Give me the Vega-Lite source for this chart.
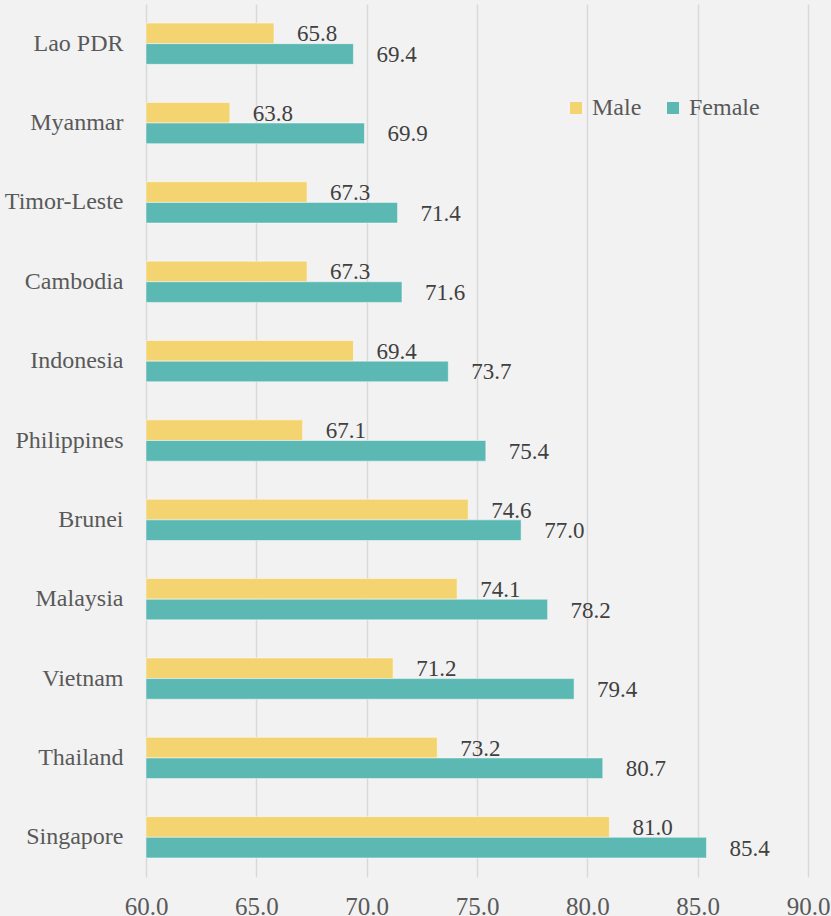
{
  "$schema": "https://vega.github.io/schema/vega-lite/v6.json",
  "width": 662,
  "height": 873,
  "autosize": "none",
  "padding": {"left": 146, "top": 4, "right": 23, "bottom": 39},
  "background": "#f2f2f2",
  "config": {
    "view": {"stroke": null},
    "font": "Liberation Serif"
  },
  "data": {
    "values": [
      {"country": "Lao PDR", "sex": "Male", "value": 65.8},
      {"country": "Lao PDR", "sex": "Female", "value": 69.4},
      {"country": "Myanmar", "sex": "Male", "value": 63.8},
      {"country": "Myanmar", "sex": "Female", "value": 69.9},
      {"country": "Timor-Leste", "sex": "Male", "value": 67.3},
      {"country": "Timor-Leste", "sex": "Female", "value": 71.4},
      {"country": "Cambodia", "sex": "Male", "value": 67.3},
      {"country": "Cambodia", "sex": "Female", "value": 71.6},
      {"country": "Indonesia", "sex": "Male", "value": 69.4},
      {"country": "Indonesia", "sex": "Female", "value": 73.7},
      {"country": "Philippines", "sex": "Male", "value": 67.1},
      {"country": "Philippines", "sex": "Female", "value": 75.4},
      {"country": "Brunei", "sex": "Male", "value": 74.6},
      {"country": "Brunei", "sex": "Female", "value": 77.0},
      {"country": "Malaysia", "sex": "Male", "value": 74.1},
      {"country": "Malaysia", "sex": "Female", "value": 78.2},
      {"country": "Vietnam", "sex": "Male", "value": 71.2},
      {"country": "Vietnam", "sex": "Female", "value": 79.4},
      {"country": "Thailand", "sex": "Male", "value": 73.2},
      {"country": "Thailand", "sex": "Female", "value": 80.7},
      {"country": "Singapore", "sex": "Male", "value": 81.0},
      {"country": "Singapore", "sex": "Female", "value": 85.4}
    ]
  },
  "encoding": {
    "y": {
      "field": "country",
      "type": "nominal",
      "sort": null,
      "scale": {"paddingInner": 0.48, "paddingOuter": 0.24},
      "axis": {
        "title": null,
        "domain": false,
        "ticks": false,
        "grid": false,
        "labelPadding": 23,
        "labelFontSize": 24,
        "labelColor": "#595959",
        "labelFont": "Liberation Serif"
      }
    },
    "yOffset": {
      "field": "sex",
      "type": "nominal",
      "sort": ["Male", "Female"],
      "scale": {"domain": ["Male", "Female"], "paddingInner": 0, "paddingOuter": 0}
    }
  },
  "layer": [
    {
      "mark": {"type": "bar", "stroke": "#ffffff", "strokeWidth": 0.8, "strokeOpacity": 0.6},
      "encoding": {
        "x": {
          "field": "value",
          "type": "quantitative",
          "scale": {"domain": [60, 90], "zero": false, "nice": false},
          "axis": {
            "title": null,
            "values": [60, 65, 70, 75, 80, 85, 90],
            "format": ".1f",
            "domain": false,
            "ticks": false,
            "grid": true,
            "gridColor": "#d9d9d9",
            "gridWidth": 1.5,
            "labelPadding": 17,
            "labelFontSize": 25,
            "labelColor": "#595959",
            "labelFont": "Liberation Serif",
            "labelOverlap": false,
            "labelBound": false,
            "labelFlush": false
          }
        },
        "x2": {"datum": 60},
        "color": {
          "field": "sex",
          "type": "nominal",
          "scale": {"domain": ["Male", "Female"], "range": ["#f4d470", "#5cb8b3"]},
          "legend": {
            "title": null,
            "orient": "none",
            "direction": "horizontal",
            "legendX": 418,
            "legendY": 92,
            "symbolType": "square",
            "symbolSize": 144,
            "symbolStrokeWidth": 0,
            "labelFontSize": 24,
            "labelColor": "#595959",
            "labelFont": "Liberation Serif",
            "labelOffset": 4,
            "columnPadding": 19
          }
        }
      }
    },
    {
      "mark": {"type": "text", "align": "left", "baseline": "middle", "dx": 23, "dy": 1, "fontSize": 23, "color": "#404040"},
      "encoding": {
        "x": {"field": "value", "type": "quantitative"},
        "text": {"field": "value", "type": "quantitative", "format": ".1f"}
      }
    }
  ]
}
